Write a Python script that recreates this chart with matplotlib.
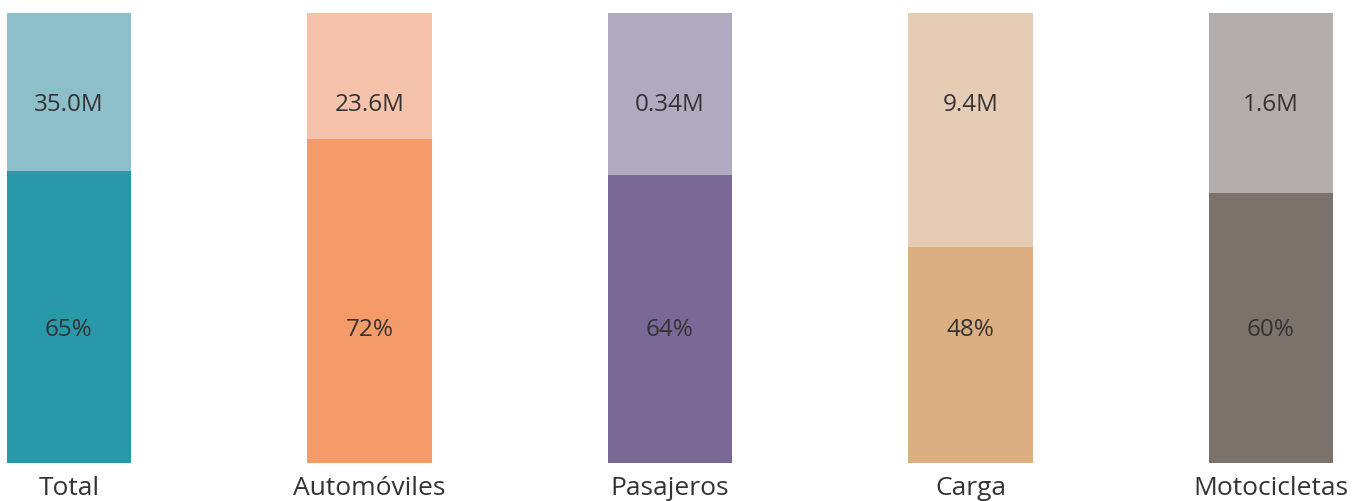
import matplotlib
matplotlib.use("Agg")
import matplotlib.pyplot as plt

categories = ["Total", "Automóviles", "Pasajeros", "Carga", "Motocicletas"]
share_pct = [65, 72, 64, 48, 60]
totals_m = ["35.0M", "23.6M", "0.34M", "9.4M", "1.6M"]
dark_colors = ["#2899A8", "#F59B69", "#7A6896", "#DBAF82", "#7B726B"]
light_colors = ["#8DBFCA", "#F5C3AC", "#B0AAC0", "#E6CBB5", "#B3AEAC"]

plt.rcParams["font.family"] = ["Open Sans", "DejaVu Sans"]
text_color = "#333333"

fig = plt.figure(figsize=(13.61, 5.01), dpi=100)
ax = fig.add_axes([0, 0, 1, 1])

x = list(range(len(categories)))
width = 0.4127
shares = [p / 100 for p in share_pct]
rest = [1 - s for s in shares]

ax.bar(x, shares, width=width, color=dark_colors, linewidth=0)
ax.bar(x, rest, bottom=shares, width=width, color=light_colors, linewidth=0)

for xi, cat, pct, tot in zip(x, categories, share_pct, totals_m):
    ax.text(xi, 0.796, tot, ha="center", va="center", fontsize=17.5, color=text_color)
    ax.text(xi, 0.296, f"{pct}%", ha="center", va="center", fontsize=17.5, color=text_color)
    ax.text(xi, -0.056, cat, ha="center", va="center", fontsize=19, color=text_color)

ax.set_xlim(-0.2296, 4.2995)
ax.set_ylim(-0.0844, 1.0289)
ax.axis("off")

fig.savefig("out.png", dpi=100, facecolor="white")
